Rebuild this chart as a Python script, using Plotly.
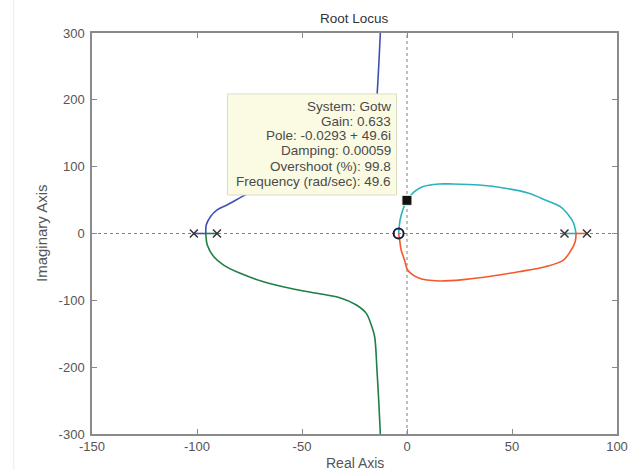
import plotly.graph_objects as go

# ---- data ----
poles_re = [-101.5, -90.5, 75.0, 85.7]
poles_im = [0, 0, 0, 0]
zero_re = [-4.0]
zero_im = [0]

blue_re = [-101.5, -95.8, -95.6, -93.6, -90.4, -85.7, -78.6, -68.3, -55.7, -43.0, -32.0, -24.1, -19.4, -17.0, -15.4, -14.3, -13.4, -12.7]
blue_im = [0, 0, 12.7, 25.2, 35.2, 42.7, 55.1, 72.2, 82.0, 89.5, 96.1, 107, 119.5, 137, 154.5, 204, 254, 300]

green_re = [-90.5, -95.8, -95.1, -92.0, -87.3, -79.4, -68.3, -55.7, -43.0, -32.0, -24.1, -19.4, -17.0, -15.4, -14.3, -13.4, -12.7]
green_im = [0, 0, -17.2, -34.7, -47.2, -59.6, -72.2, -82.0, -89.5, -96.1, -107, -119.5, -137, -154.5, -204, -254, -300]

cyan_re = [75.0, 80.5, 79.3, 76.9, 73.0, 65.9, 58.0, 46.9, 34.3, 21.6, 15.3, 7.4, 3.5, -0.03, -2.0, -3.3, -3.9, -4.0]
cyan_im = [0, 0, 15.7, 27.7, 40.1, 50.1, 60.2, 67.7, 72.6, 74.1, 74.1, 70.1, 62.6, 49.6, 35.2, 20.2, 2.7, 0]

red_re = [85.7, 80.5, 80.1, 77.7, 74.5, 65.9, 53.2, 40.6, 28.0, 15.3, 5.9, 0.3, -1.2, -2.8, -3.6, -4.0]
red_im = [0, 0, -12.3, -27.2, -39.7, -49.7, -57.2, -63.6, -68.6, -71.1, -67.1, -54.6, -39.7, -24.7, -7.2, 0]

sel_re = [-0.0293]
sel_im = [49.6]

tip_lines = ["System: Gotw", "Gain: 0.633", "Pole: -0.0293 + 49.6i", "Damping: 0.00059",
             "Overshoot (%): 99.8", "Frequency (rad/sec): 49.6"]

x_ticks = [-150, -100, -50, 0, 50, 100]
x_ticktext = ["-150", "-100", "-50", "0", "50", "100"]
y_ticks = [-300, -200, -100, 0, 100, 200, 300]
y_ticktext = ["-300", "-200", "-100", "0", "100", "200", "300"]

FONT = "Liberation Sans, Arial, sans-serif"

fig = go.Figure()
for xs, ys, col in [(blue_re, blue_im, "#4050b0"), (green_re, green_im, "#1f7f45"),
                    (cyan_re, cyan_im, "#2ab3bd"), (red_re, red_im, "#f5582a")]:
    # real-axis segment (pole to breakaway)
    fig.add_trace(go.Scatter(x=xs[:2], y=ys[:2], mode="lines", line=dict(color=col, width=1.6),
                             hoverinfo="skip", showlegend=False))
    # curved part
    fig.add_trace(go.Scatter(x=xs[1:], y=ys[1:], mode="lines",
                             line=dict(color=col, width=1.6, shape="spline", smoothing=0.9),
                             hoverinfo="skip", showlegend=False))

fig.add_trace(go.Scatter(x=poles_re, y=poles_im, mode="markers",
                         marker=dict(symbol="x-thin", size=8, line=dict(color="#333333", width=1.5)),
                         showlegend=False))
fig.add_trace(go.Scatter(x=zero_re, y=zero_im, mode="markers",
                         marker=dict(symbol="circle-open", size=10, color="#1a1a3a", line=dict(width=2)),
                         showlegend=False))
fig.add_trace(go.Scatter(x=sel_re, y=sel_im, mode="markers",
                         marker=dict(symbol="square", size=10, color="#111111",
                                     line=dict(color="#f4f4dc", width=1)),
                         showlegend=False))

shapes = [
    dict(type="line", xref="x", yref="y", x0=-150, x1=100, y0=0, y1=0,
         line=dict(color="#808080", width=1, dash="dot"), layer="below"),
    dict(type="line", xref="x", yref="y", x0=0, x1=0, y0=-300, y1=300,
         line=dict(color="#808080", width=1, dash="dot"), layer="below"),
    dict(type="rect", xref="x", yref="y", x0=-85.5, x1=-5.0, y0=57.6, y1=208.8,
         fillcolor="#fbfbe4", line=dict(color="#dcdcc4", width=1), layer="above"),
    dict(type="line", xref="paper", yref="paper", x0=-0.149, x1=-0.149, y0=-0.09, y1=1.09,
         line=dict(color="#ecece6", width=1), layer="below"),
]

annotations = []
tip_y = [189.4, 167.0, 146.0, 123.5, 101.0, 77.1]
for txt, ty in zip(tip_lines, tip_y):
    annotations.append(dict(text=txt, x=-6.9, y=ty, xref="x", yref="y",
                            xanchor="right", yanchor="middle", align="right", showarrow=False,
                            font=dict(family=FONT, size=13.5, color="#4a4a4a")))

annotations += [
    dict(text="Root Locus", x=0.5, y=1.0, xref="paper", yref="paper", xanchor="center",
         yanchor="bottom", yshift=5, showarrow=False, font=dict(family=FONT, size=13.5, color="#333333")),
    dict(text="Real Axis", x=0.5, y=0, xref="paper", yref="paper", xanchor="center",
         yanchor="top", yshift=-19, showarrow=False, font=dict(family=FONT, size=14, color="#555555")),
    dict(text="Imaginary Axis", x=0, y=0.5, xref="paper", yref="paper", xanchor="right",
         yanchor="middle", xshift=-40, textangle=-90, showarrow=False,
         font=dict(family=FONT, size=15, color="#555555")),
]

axis_common = dict(showline=True, linecolor="#8a8a8a", linewidth=1.5, mirror="ticks",
                   ticks="inside", ticklen=5, tickcolor="#8a8a8a", showgrid=False, zeroline=False,
                   tickfont=dict(family=FONT, size=13, color="#555555"))

fig.update_layout(
    width=640, height=470,
    margin=dict(l=92, r=20, t=33, b=36),
    paper_bgcolor="white", plot_bgcolor="white",
    xaxis=dict(range=[-150, 100], tickvals=x_ticks, ticktext=x_ticktext, **axis_common),
    yaxis=dict(range=[-300, 300], tickvals=y_ticks, ticktext=y_ticktext,
               ticklabelstandoff=3, **axis_common),
    shapes=shapes, annotations=annotations, showlegend=False,
)

fig.write_html("out.html")
